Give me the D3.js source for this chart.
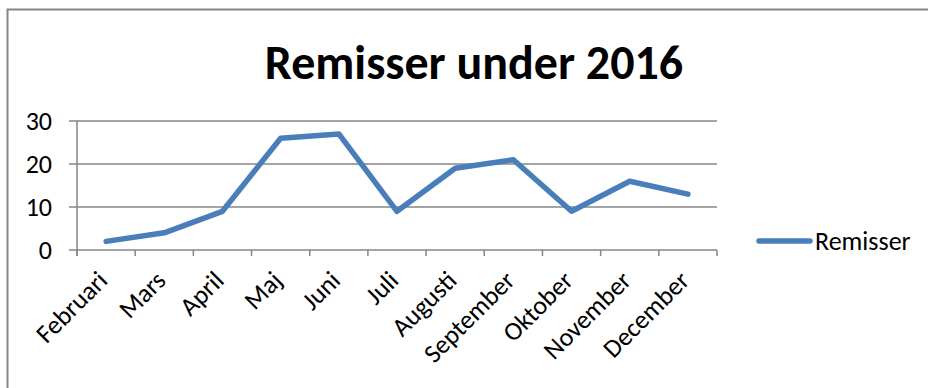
<!DOCTYPE html>
<html>
<head>
<meta charset="utf-8">
<script src="https://cdn.jsdelivr.net/npm/d3@7"></script>
<style>
  body { margin: 0; background: #fff; }
  svg { font-family: Carlito, Calibri, Lato, "Open Sans", sans-serif; }
</style>
</head>
<body>
<div id="chart"></div>
<script>
// data
var months = ["Februari","Mars","April","Maj","Juni","Juli","Augusti","September","Oktober","November","December"];
var remisser = [2, 4, 9, 26, 27, 9, 19, 21, 9, 16, 13];
var yTicks = [0, 10, 20, 30];

var W = 928, H = 388;
var plotLeft = 77, plotRight = 717, plotTop = 121, plotBottom = 250;
var lineColor = "#4a7ebb", gridColor = "#868686";

var svg = d3.select("#chart").append("svg")
    .attr("width", W).attr("height", H);

// outer frame (cropped on right/bottom)
svg.append("rect")
    .attr("x", 7.5).attr("y", 9.5)
    .attr("width", 1000).attr("height", 1000)
    .attr("fill", "none").attr("stroke", gridColor).attr("stroke-width", 2);

svg.append("text")
    .attr("x", 474).attr("y", 79)
    .attr("text-anchor", "middle")
    .attr("font-size", 48).attr("font-weight", "bold")
    .text("Remisser under 2016");

var x = d3.scaleBand().domain(months).range([plotLeft, plotRight]);
var y = d3.scaleLinear().domain([0, 30]).range([plotBottom, plotTop]);

// gridlines
svg.selectAll(".grid").data(yTicks).enter().append("line")
    .attr("x1", plotLeft - 8).attr("x2", plotRight)
    .attr("y1", function (d) { return y(d); })
    .attr("y2", function (d) { return y(d); })
    .attr("stroke", gridColor).attr("stroke-width", 1.5);

// y axis line
svg.append("line")
    .attr("x1", plotLeft).attr("x2", plotLeft)
    .attr("y1", plotTop).attr("y2", plotBottom + 6)
    .attr("stroke", gridColor).attr("stroke-width", 1.5);

// x ticks on band boundaries
var bounds = months.map(function (m) { return x(m); }).concat([plotRight]);
svg.selectAll(".xt").data(bounds).enter().append("line")
    .attr("x1", function (d) { return d; }).attr("x2", function (d) { return d; })
    .attr("y1", plotBottom).attr("y2", plotBottom + 6)
    .attr("stroke", gridColor).attr("stroke-width", 1.5);

svg.selectAll(".yl").data(yTicks).enter().append("text")
    .attr("x", 52).attr("y", function (d) { return y(d) + 9; })
    .attr("text-anchor", "end").attr("font-size", 26)
    .text(function (d) { return d; });

svg.selectAll(".xl").data(months).enter().append("text")
    .attr("text-anchor", "end").attr("font-size", 26)
    .attr("transform", function (d) {
        return "translate(" + (x(d) + x.bandwidth() / 2 + 3) + "," + (plotBottom + 32) + ") rotate(-45)";
    })
    .text(function (d) { return d; });

var line = d3.line()
    .x(function (d, i) { return x(months[i]) + x.bandwidth() / 2; })
    .y(function (d) { return y(d); });

svg.append("path").datum(remisser)
    .attr("d", line)
    .attr("fill", "none").attr("stroke", lineColor)
    .attr("stroke-width", 5.5).attr("stroke-linecap", "round").attr("stroke-linejoin", "round");

// legend
svg.append("line")
    .attr("x1", 759).attr("x2", 810).attr("y1", 241).attr("y2", 241)
    .attr("stroke", lineColor).attr("stroke-width", 5.5).attr("stroke-linecap", "round");
svg.append("text")
    .attr("x", 815).attr("y", 250).attr("font-size", 26)
    .text("Remisser");
</script>
</body>
</html>
